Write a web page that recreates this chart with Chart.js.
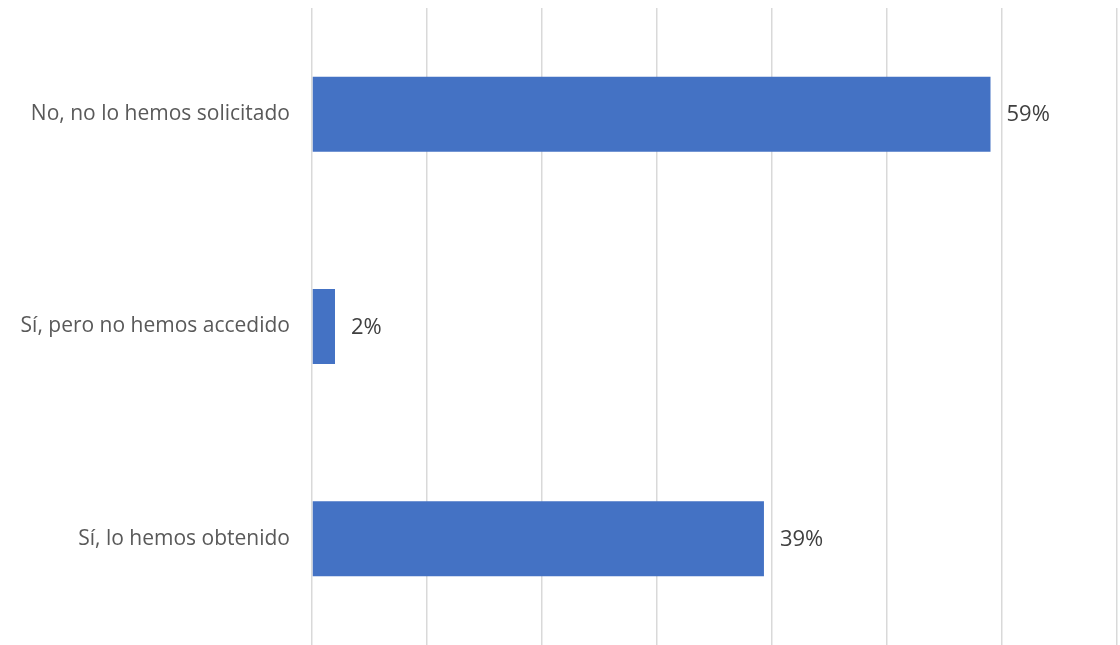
<!DOCTYPE html>
<html>
<head>
<meta charset="utf-8">
<script src="https://cdn.jsdelivr.net/npm/chart.js@4"></script>
<style>
  html, body { margin: 0; padding: 0; background: #fff; }
  #wrap { width: 1120px; height: 645px; }
</style>
</head>
<body>
<div id="wrap"><canvas id="chart"></canvas></div>
<script>
let categories = ['No, no lo hemos solicitado', 'Sí, pero no hemos accedido', 'Sí, lo hemos obtenido'];
let values = [59, 2, 39.3];
let valueLabels = ['59%', '2%', '39%'];

let fontFamily = "'Open Sans', 'Noto Sans', sans-serif";

// draws the % labels to the right of each bar
let barLabels = {
    id: 'barLabels',
    afterDatasetsDraw(chart) {
        let ctx = chart.ctx;
        let meta = chart.getDatasetMeta(0);
        ctx.save();
        ctx.font = '22px ' + fontFamily;
        ctx.fillStyle = '#404040';
        ctx.textBaseline = 'middle';
        ctx.textAlign = 'left';
        meta.data.forEach((bar, i) => {
            ctx.fillText(valueLabels[i], bar.x + 16, bar.y + 1);
        });
        ctx.restore();
    }
};

new Chart(document.getElementById('chart'), {
    type: 'bar',
    data: {
        labels: categories,
        datasets: [{
            data: values,
            backgroundColor: '#4472c4',
            categoryPercentage: 1,
            barPercentage: 0.353
        }]
    },
    options: {
        indexAxis: 'y',
        responsive: true,
        maintainAspectRatio: false,
        animation: false,
        layout: { padding: { top: 8, right: 3, bottom: -2, left: 0 } },
        plugins: {
            legend: { display: false },
            tooltip: { enabled: false }
        },
        scales: {
            x: {
                min: 0,
                max: 70,
                ticks: { display: false, stepSize: 10 },
                grid: { color: '#d9d9d9', lineWidth: 1.5, drawTicks: false },
                border: { display: false },
                afterFit(scale) {
                    scale.height = 0;
                    scale.paddingLeft = 0;
                    scale.paddingRight = 0;
                }
            },
            y: {
                grid: { display: false },
                border: { display: false },
                ticks: {
                    color: '#595959',
                    padding: 14,
                    font: { family: fontFamily, size: 21 }
                },
                afterFit(scale) {
                    scale.width = 312;
                    scale.paddingTop = 0;
                    scale.paddingBottom = 0;
                }
            }
        }
    },
    plugins: [barLabels]
});
</script>
</body>
</html>
